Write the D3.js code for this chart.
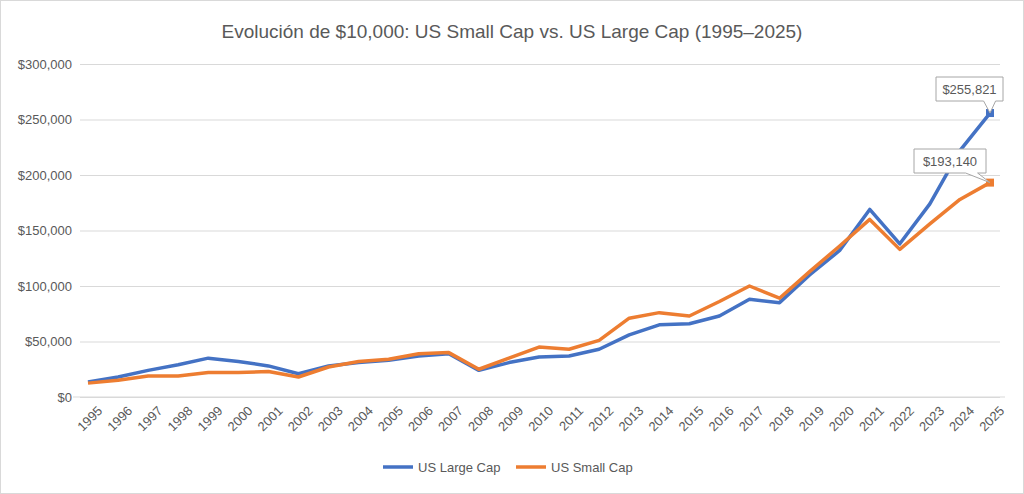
<!DOCTYPE html>
<html><head><meta charset="utf-8">
<script src="https://cdn.jsdelivr.net/npm/d3@7"></script>
<style>body{margin:0;background:#fff;font-family:"Liberation Sans",Arial,sans-serif}</style>
</head><body><div id="chart"></div>
<script>
const years = d3.range(1995, 2026);
const largeCap = [13500,18000,24000,29000,35000,32000,28000,21000,28000,31000,33000,37000,39000,24000,31000,36000,37000,43000,56000,65000,66000,73000,88000,85000,110000,132000,169000,138000,174000,222000,255821];
const smallCap = [12500,15000,19000,19000,22000,22000,23000,18000,27000,32000,34000,39000,40000,25000,35000,45000,43000,51000,71000,76000,73000,86000,100000,89000,113000,136000,160000,133000,156000,178000,193140];
const yTicks = [0,50000,100000,150000,200000,250000,300000];
const series = [
  {name:'US Large Cap', values: largeCap, colour:'#4472C4'},
  {name:'US Small Cap', values: smallCap, colour:'#ED7D31'}
];

const W = 1024, H = 494;
const svg = d3.select('#chart').append('svg').attr('width', W).attr('height', H);
svg.append('rect').attr('x',0.5).attr('y',0.5).attr('width',W-1).attr('height',H-1)
  .attr('fill','#fff').attr('stroke','#d9d9d9');

const x = d3.scalePoint().domain(years).range([88, 990]);
const y = d3.scaleLinear().domain([0,300000]).range([397, 64]);
const fmt = d3.format('$,');

svg.append('text').attr('x', W/2).attr('y', 38).attr('text-anchor','middle')
  .attr('font-size', 19).attr('fill','#595959')
  .text('Evolución de $10,000: US Small Cap vs. US Large Cap (1995–2025)');

const gy = svg.append('g').attr('transform','translate(80,0)')
  .call(d3.axisLeft(y).tickValues(yTicks).tickSize(-920).tickFormat(d => d === 0 ? '$0' : fmt(d)));
gy.select('.domain').remove();
gy.selectAll('line').attr('stroke','#d9d9d9');
gy.selectAll('text').attr('fill','#595959').attr('font-size',13).attr('x',-8);

const gx = svg.append('g').attr('transform','translate(0,397)')
  .call(d3.axisBottom(x).tickSize(0).tickFormat(d3.format('d')));
gx.select('.domain').attr('stroke','#d9d9d9').attr('d','M73,0H1005');
gx.selectAll('text').attr('fill','#595959').attr('font-size',13)
  .attr('text-anchor','end').attr('transform','translate(6,6) rotate(-45)');

const line = d3.line().x((d,i) => x(years[i])).y(d => y(d));
series.forEach(s => {
  svg.append('path').datum(s.values).attr('d', line).attr('fill','none')
    .attr('stroke', s.colour).attr('stroke-width', 3.5).attr('stroke-linejoin','round');
  const last = s.values[s.values.length-1];
  svg.append('rect').attr('x', x(2025)-4).attr('y', y(last)-4).attr('width',8).attr('height',8)
    .attr('fill', s.colour);
});

// callouts
function callout(val, bx, by, bw, bh, px, py) {
  const g = svg.append('g');
  const tipx = bx + bw*0.8;
  g.append('path')
    .attr('d', `M${bx},${by}H${bx+bw}V${by+bh}H${tipx+6}L${px},${py}L${tipx-6},${by+bh}H${bx}Z`)
    .attr('fill','#fff').attr('stroke','#a6a6a6');
  g.append('text').attr('x', bx+bw/2).attr('y', by+bh/2+5).attr('text-anchor','middle')
    .attr('font-size',13).attr('fill','#595959').text(fmt(val));
}
callout(largeCap[30], 936, 77, 67, 24, x(2025), y(largeCap[30]));
callout(smallCap[30], 914, 149, 72, 24, x(2025), y(smallCap[30]));

// legend
const leg = svg.append('g').attr('transform','translate(383,467)');
series.forEach((s,i) => {
  const g = leg.append('g').attr('transform', `translate(${i*133},0)`);
  g.append('line').attr('x1',0).attr('x2',30).attr('stroke', s.colour).attr('stroke-width',3.5);
  g.append('text').attr('x',35).attr('y',5).attr('font-size',13).attr('fill','#595959').text(s.name);
});
</script></body></html>
